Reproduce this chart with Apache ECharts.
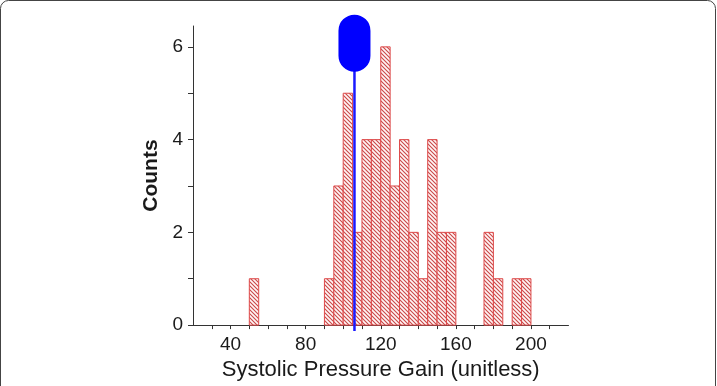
<!DOCTYPE html>
<html>
<head>
<meta charset="utf-8">
<script src="https://cdn.jsdelivr.net/npm/echarts@6/dist/echarts.min.js"></script>
<style>
  html, body { margin: 0; padding: 0; background: #fff; }
  #main { width: 717px; height: 386px; }
</style>
</head>
<body>
<div id="main"></div>
<script>
// histogram bins (left edge) and counts
var binStart = [50, 90, 95, 100, 105, 110, 115, 120, 125, 130, 135, 140, 145, 150, 155, 175, 180, 190, 195];
var counts   = [1, 1, 3, 5, 2, 4, 4, 6, 3, 4, 2, 1, 4, 2, 2, 2, 1, 1, 1];
var binWidth = 5;

// vertical marker
var markerX = 106;
var markerTop = 6.08;

var xLabels = [40, 80, 120, 160, 200];
var xTicks = [30, 40, 50, 60, 70, 80, 90, 100, 110, 120, 130, 140, 150, 160, 170, 180, 190, 200, 210];
var yLabels = [0, 2, 4, 6];
var yTicks = [0, 1, 2, 3, 4, 5, 6];

var font = '"Liberation Sans", Arial, sans-serif';

// hatch pattern for the bars
var hatch = document.createElement('canvas');
hatch.width = 4;
hatch.height = 4;
var ctx = hatch.getContext('2d');
ctx.fillStyle = '#fff6f6';
ctx.fillRect(0, 0, 4, 4);
ctx.strokeStyle = '#c94848';
ctx.lineWidth = 1.1;
ctx.beginPath();
ctx.moveTo(-1, -1); ctx.lineTo(5, 5);
ctx.moveTo(-1, 3); ctx.lineTo(1, 5);
ctx.moveTo(3, -1); ctx.lineTo(5, 1);
ctx.stroke();

var barData = binStart.map(function (s, i) {
    return [s, s + binWidth, counts[i]];
});

var chart = echarts.init(document.getElementById('main'));

chart.setOption({
    backgroundColor: '#fff',
    animation: false,
    graphic: [{
        type: 'rect',
        shape: { x: 0.5, y: 0.5, width: 715, height: 420, r: 8 },
        style: { fill: null, stroke: '#444', lineWidth: 1 },
        silent: true
    }],
    grid: { left: 193, right: 148.5, top: 26, bottom: 57 },
    xAxis: {
        type: 'value',
        min: 20,
        max: 220,
        name: 'Systolic Pressure Gain (unitless)',
        nameLocation: 'middle',
        nameGap: 31,
        nameTextStyle: { fontFamily: font, fontSize: 22, color: '#1a1a1a' },
        axisLine: { lineStyle: { color: '#333', width: 1 } },
        axisTick: { customValues: xTicks, length: 4, lineStyle: { color: '#333' } },
        axisLabel: { customValues: xLabels, fontFamily: font, fontSize: 19, color: '#1a1a1a', margin: 10 },
        splitLine: { show: false }
    },
    yAxis: {
        type: 'value',
        min: 0,
        max: 6.45,
        name: 'Counts',
        nameLocation: 'middle',
        nameGap: 29,
        nameTextStyle: { fontFamily: font, fontSize: 21, fontWeight: 'bold', color: '#1a1a1a' },
        axisLine: { show: true, lineStyle: { color: '#333', width: 1 } },
        axisTick: { show: true, customValues: yTicks, length: 5, lineStyle: { color: '#333' } },
        axisLabel: { customValues: yLabels, fontFamily: font, fontSize: 19, color: '#1a1a1a', margin: 10 },
        splitLine: { show: false }
    },
    series: [{
        type: 'custom',
        data: barData,
        renderItem: function (params, api) {
            var p0 = api.coord([api.value(0), api.value(2)]);
            var p1 = api.coord([api.value(1), 0]);
            return {
                type: 'rect',
                shape: { x: p0[0], y: p0[1], width: p1[0] - p0[0], height: p1[1] - p0[1] },
                style: {
                    fill: { image: hatch, repeat: 'repeat' },
                    stroke: '#de4a4a',
                    lineWidth: 1
                }
            };
        }
    }, {
        type: 'custom',
        data: [[markerX, markerTop]],
        z: 5,
        renderItem: function (params, api) {
            var top = api.coord([api.value(0), api.value(1)]);
            var base = api.coord([api.value(0), 0]);
            var w = 32, h = 57;
            return {
                type: 'group',
                children: [{
                    type: 'line',
                    shape: { x1: base[0], y1: base[1] + 6, x2: top[0], y2: top[1] },
                    style: { stroke: '#1a1aff', lineWidth: 2.5 }
                }, {
                    type: 'rect',
                    shape: { x: top[0] - w / 2, y: top[1] - h / 2, width: w, height: h, r: [16, 16, 16, 16] },
                    style: { fill: '#0000ff' }
                }]
            };
        }
    }]
});
</script>
</body>
</html>
